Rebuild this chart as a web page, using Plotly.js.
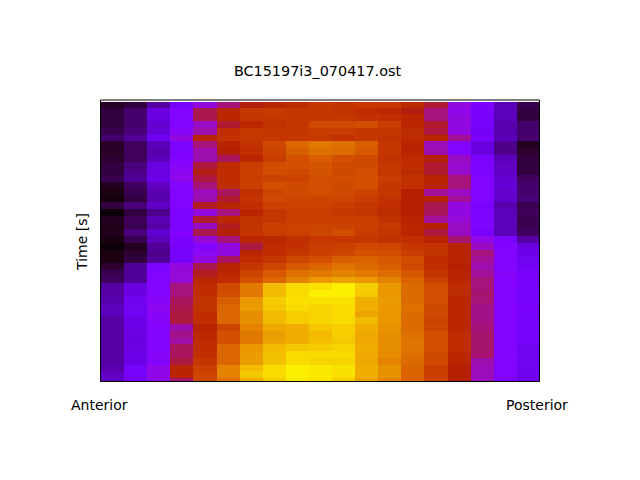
<!DOCTYPE html>
<html><head><meta charset="utf-8">
<script src="https://cdn.plot.ly/plotly-3.0.1.min.js"></script>
<style>html,body{margin:0;padding:0;background:#fff}#c{width:640px;height:480px}</style>
</head><body><div id="c"></div>
<script>
const chartTitle = "BC15197i3_070417.ost";
const yLabel = "Time [s]";
const xEndLabels = ["Anterior", "Posterior"];

// Rows 0-19 (top of picture): one array per time row, anterior to posterior
const upperRows = [
[.025,.04,.11,.22,.33,.42,.49,.53,.55,.60,.58,.60,.60,.54,.47,.33,.24,.13,.05],
[.04,.07,.17,.25,.45,.54,.60,.61,.60,.60,.58,.56,.54,.49,.42,.32,.23,.13,.04],
[.04,.07,.17,.26,.45,.54,.59,.60,.60,.60,.60,.58,.57,.53,.42,.33,.23,.13,.04],
[.04,.07,.15,.25,.36,.47,.54,.58,.60,.66,.66,.67,.62,.54,.47,.33,.22,.12,.07],
[.05,.08,.16,.28,.38,.56,.61,.60,.60,.62,.62,.60,.60,.55,.46,.33,.20,.12,.07],
[.07,.10,.20,.33,.52,.58,.60,.60,.60,.60,.58,.60,.58,.55,.53,.40,.23,.13,.07],
[.025,.06,.13,.24,.42,.52,.58,.66,.74,.78,.76,.72,.60,.52,.37,.26,.17,.09,.02],
[.025,.06,.12,.24,.38,.50,.57,.64,.72,.76,.75,.70,.60,.52,.38,.26,.17,.09,.03],
[.03,.06,.13,.25,.38,.44,.53,.62,.68,.72,.68,.66,.58,.55,.50,.36,.24,.13,.04],
[.04,.08,.17,.28,.46,.55,.62,.67,.68,.69,.66,.66,.60,.56,.47,.35,.24,.14,.04],
[.04,.09,.17,.30,.49,.56,.63,.67,.66,.69,.66,.67,.60,.55,.47,.35,.24,.14,.04],
[.05,.10,.18,.31,.46,.56,.62,.64,.64,.67,.67,.68,.62,.58,.52,.42,.25,.15,.06],
[.02,.06,.14,.27,.42,.56,.63,.68,.66,.67,.66,.68,.60,.57,.52,.42,.26,.16,.07],
[.01,.05,.12,.25,.37,.44,.57,.65,.66,.67,.66,.64,.60,.50,.40,.36,.25,.15,.07],
[.008,.04,.12,.25,.38,.47,.59,.66,.65,.65,.65,.62,.58,.50,.52,.40,.25,.15,.08],
[.04,.08,.14,.25,.48,.52,.57,.63,.64,.64,.62,.60,.57,.50,.45,.33,.23,.12,.05],
[.004,.04,.09,.24,.33,.42,.53,.60,.62,.62,.60,.59,.55,.50,.44,.33,.24,.13,.06],
[.02,.06,.13,.24,.47,.54,.58,.60,.63,.62,.62,.62,.58,.52,.40,.34,.24,.13,.05],
[.015,.05,.11,.24,.36,.48,.58,.63,.64,.64,.64,.63,.61,.54,.50,.36,.25,.13,.05],
[.02,.08,.15,.26,.45,.50,.59,.62,.63,.65,.67,.62,.59,.53,.46,.36,.23,.13,.06]
];

// Rows 20-41 (lower part of picture): one array per anterior-posterior column
const lowerCol00 = [.01,.004,.01,.01,.03,.05,.06,.11,.11,.12,.13,.13,.11,.11,.11,.11,.11,.11,.11,.12,.14,.14];
const lowerCol01 = [.05,.02,.03,.04,.10,.10,.10,.17,.17,.20,.20,.20,.18,.18,.17,.17,.17,.18,.18,.22,.22,.22];
const lowerCol02 = [.13,.10,.09,.10,.24,.25,.25,.26,.26,.28,.30,.28,.28,.27,.26,.27,.27,.28,.27,.32,.32,.32];
const lowerCol03 = [.24,.22,.22,.22,.33,.34,.34,.42,.42,.44,.45,.46,.46,.38,.41,.39,.44,.44,.46,.53,.52,.43];
const lowerCol04 = [.34,.27,.30,.33,.45,.48,.53,.55,.56,.58,.58,.56,.56,.52,.54,.55,.56,.57,.60,.63,.65,.65];
const lowerCol05 = [.42,.33,.33,.44,.52,.53,.56,.66,.67,.72,.74,.74,.74,.65,.68,.68,.74,.74,.74,.80,.80,.76];
const lowerCol06 = [.53,.46,.53,.56,.60,.64,.68,.78,.78,.84,.85,.82,.82,.80,.78,.78,.84,.85,.85,.90,.92,.88];
const lowerCol07 = [.54,.55,.56,.60,.65,.70,.74,.90,.90,.93,.92,.90,.90,.87,.85,.86,.90,.91,.91,.95,.95,.93];
const lowerCol08 = [.57,.58,.60,.65,.70,.76,.80,.95,.95,.96,.95,.93,.93,.88,.88,.88,.92,.95,.95,.98,.98,.97];
const lowerCol09 = [.60,.62,.63,.68,.74,.78,.84,.96,.98,.96,.94,.94,.94,.92,.90,.91,.93,.95,.94,.97,.97,.96];
const lowerCol10 = [.60,.63,.65,.72,.77,.80,.86,.98,.98,.96,.95,.95,.95,.93,.93,.92,.94,.95,.94,.96,.96,.93];
const lowerCol11 = [.60,.66,.68,.73,.75,.78,.84,.93,.92,.88,.88,.86,.90,.88,.87,.87,.88,.87,.87,.88,.88,.86];
const lowerCol12 = [.58,.65,.67,.70,.72,.75,.80,.84,.84,.85,.84,.84,.84,.83,.82,.82,.82,.82,.80,.83,.83,.80];
const lowerCol13 = [.57,.60,.62,.67,.66,.70,.73,.75,.75,.75,.76,.75,.75,.75,.76,.77,.77,.76,.75,.73,.73,.73];
const lowerCol14 = [.52,.58,.58,.56,.57,.60,.63,.67,.67,.67,.66,.66,.64,.65,.68,.68,.68,.66,.66,.63,.63,.64];
const lowerCol15 = [.43,.52,.52,.52,.50,.52,.53,.55,.55,.54,.54,.54,.53,.53,.56,.56,.56,.54,.54,.50,.50,.50];
const lowerCol16 = [.32,.36,.42,.40,.38,.40,.42,.42,.43,.42,.41,.41,.41,.42,.43,.43,.43,.43,.38,.37,.37,.37];
const lowerCol17 = [.24,.25,.26,.26,.27,.28,.26,.26,.26,.26,.26,.26,.26,.26,.26,.26,.26,.27,.26,.26,.26,.26];
const lowerCol18 = [.11,.17,.18,.20,.20,.23,.23,.22,.22,.22,.23,.23,.22,.22,.22,.22,.20,.20,.20,.20,.19,.19];

const lowerCols = [lowerCol00,lowerCol01,lowerCol02,lowerCol03,lowerCol04,lowerCol05,lowerCol06,lowerCol07,lowerCol08,lowerCol09,lowerCol10,lowerCol11,lowerCol12,lowerCol13,lowerCol14,lowerCol15,lowerCol16,lowerCol17,lowerCol18];
const lowerRows = lowerCol00.map((_, r) => lowerCols.map(c => c[r]));
const z = upperRows.concat(lowerRows);

// "gnuplot" palette: r=sqrt(t), g=t^3, b=sin(2*pi*t) clipped
const colorscale = [];
for (let i = 0; i <= 128; i++) {
  const t = i / 128;
  const r = Math.round(255 * Math.sqrt(t));
  const g = Math.round(255 * t * t * t);
  const b = Math.round(255 * Math.max(0, Math.sin(2 * Math.PI * t)));
  colorscale.push([t, `rgb(${r},${g},${b})`]);
}

const W = 640, H = 480;
const frame = {l: 100.5, r: 539.5, t: 100, b: 381.5};
const mL = 101, mR = 100, mT = 102, mB = 99;
const pw = W - mL - mR, ph = H - mT - mB;
const textFont = {family: 'DejaVu Sans', size: 14, color: '#000'};

Plotly.newPlot('c', [{
  type: 'heatmap', z: z, colorscale: colorscale, zmin: 0, zmax: 1,
  showscale: false, zsmooth: false, hoverinfo: 'skip'
}], {
  width: W, height: H,
  margin: {l: mL, r: mR, t: mT, b: mB, pad: 0},
  paper_bgcolor: '#fff', plot_bgcolor: '#fff',
  font: textFont,
  title: {text: chartTitle, x: 317.5/640, xref: 'container', xanchor: 'center',
          y: 1 - 71/480, yref: 'container', yanchor: 'middle',
          font: {family: 'DejaVu Sans', size: 14.4, color: '#000'}},
  xaxis: {range: [-0.5, 18.5], showticklabels: false, ticks: '', showgrid: false, zeroline: false, showline: false},
  yaxis: {range: [40.9, -0.34], autorange: false, showticklabels: false, ticks: '', showgrid: false,
          zeroline: false, showline: false,
          title: {text: yLabel, standoff: 9, font: textFont}},
  annotations: [
    {text: xEndLabels[0], xref: 'paper', yref: 'paper', showarrow: false, xanchor: 'center', yanchor: 'middle',
     x: (99.5 - mL) / pw, y: 1 - (405 - mT) / ph, font: textFont},
    {text: xEndLabels[1], xref: 'paper', yref: 'paper', showarrow: false, xanchor: 'center', yanchor: 'middle',
     x: (537 - mL) / pw, y: 1 - (405 - mT) / ph, font: textFont}
  ],
  shapes: [{type: 'rect', xref: 'paper', yref: 'paper', layer: 'above',
    x0: (frame.l - mL) / pw, x1: (frame.r - mL) / pw,
    y0: 1 - (frame.b - mT) / ph, y1: 1 - (frame.t - mT) / ph,
    line: {color: '#000', width: 1}, fillcolor: 'rgba(0,0,0,0)'}]
}, {displayModeBar: false, staticPlot: true});
</script></body></html>
